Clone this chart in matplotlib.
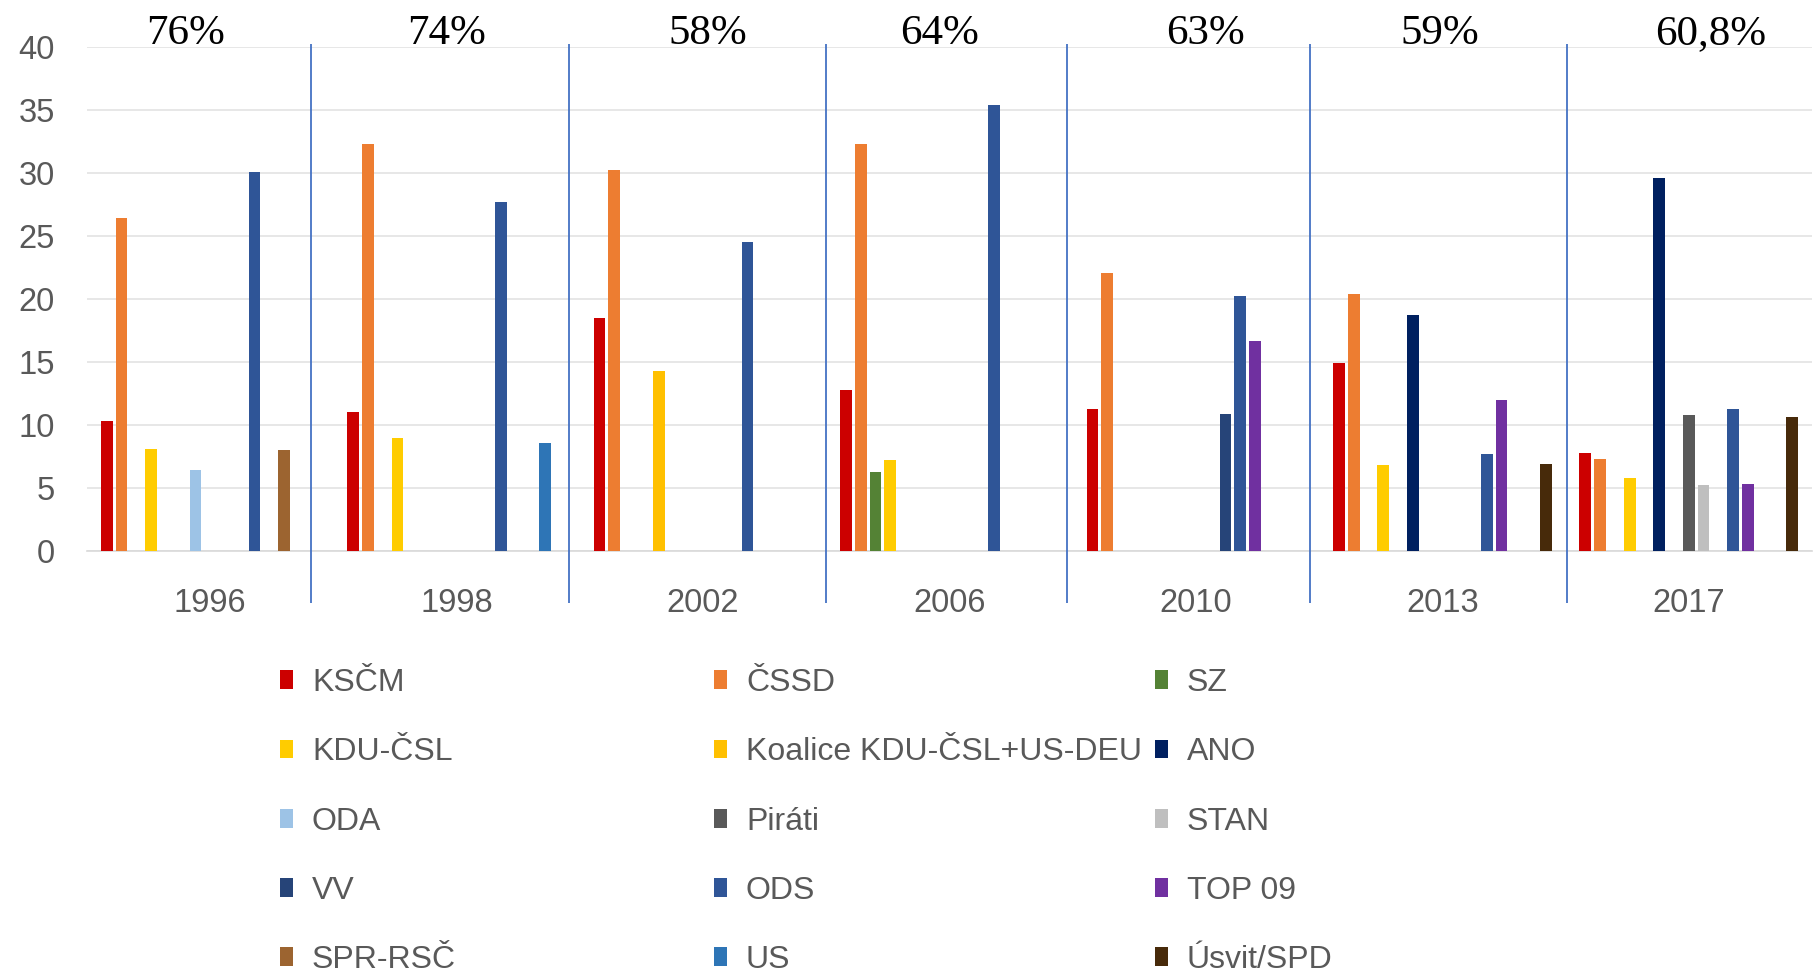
import numpy as np
import matplotlib
matplotlib.use("Agg")
import matplotlib.pyplot as plt

# years (categories) and turnout labels above each group
years = ["1996", "1998", "2002", "2006", "2010", "2013", "2017"]
turnout = ["76%", "74%", "58%", "64%", "63%", "59%", "60,8%"]

# party results in %, one list per party, 0 = did not get in
parties = ["KSČM", "ČSSD", "SZ", "KDU-ČSL", "Koalice KDU-ČSL+US-DEU", "ANO",
           "ODA", "Piráti", "STAN", "VV", "ODS", "TOP 09",
           "SPR-RSČ", "US", "Úsvit/SPD"]
kscm = [10.3, 11.0, 18.5, 12.8, 11.3, 14.9, 7.8]
cssd = [26.4, 32.3, 30.2, 32.3, 22.1, 20.4, 7.3]
sz = [0, 0, 0, 6.3, 0, 0, 0]
kdu = [8.1, 9.0, 0, 7.2, 0, 6.8, 5.8]
koalice = [0, 0, 14.3, 0, 0, 0, 0]
ano = [0, 0, 0, 0, 0, 18.7, 29.6]
oda = [6.4, 0, 0, 0, 0, 0, 0]
pirati = [0, 0, 0, 0, 0, 0, 10.8]
stan = [0, 0, 0, 0, 0, 0, 5.2]
vv = [0, 0, 0, 0, 10.9, 0, 0]
ods = [30.1, 27.7, 24.5, 35.4, 20.2, 7.7, 11.3]
top09 = [0, 0, 0, 0, 16.7, 12.0, 5.3]
spr = [8.0, 0, 0, 0, 0, 0, 0]
us = [0, 8.6, 0, 0, 0, 0, 0]
usvit = [0, 0, 0, 0, 0, 6.9, 10.6]
values = [kscm, cssd, sz, kdu, koalice, ano, oda, pirati, stan, vv, ods,
          top09, spr, us, usvit]

colors = ["#CC0000", "#ED7D31", "#548235", "#FFCC00", "#FFC000", "#002060",
          "#9DC3E6", "#595959", "#BFBFBF", "#264478", "#2F5597", "#7030A0",
          "#9C6430", "#2E75B6", "#472A0A"]

# hand-drawn separators and label spots (in category units)
sep_x = [0.41, 1.455, 2.498, 3.478, 4.461, 5.504]
pct_x = [-0.10, 0.96, 2.02, 2.96, 4.04, 4.99, 6.09]

grey = "#595959"
plt.rcParams["font.family"] = ["Liberation Sans", "DejaVu Sans"]

W, H = 1820, 973
fig = plt.figure(figsize=(W / 100, H / 100), dpi=100)
ax = fig.add_axes([87 / W, 1 - 551 / H, (1812 - 87) / W, (551 - 47) / H])

x = np.arange(len(years))
slot = 0.06
bw = 0.048
bars = []
for j, (name, vals, col) in enumerate(zip(parties, values, colors)):
    b = ax.bar(x + (j - 7) * slot, vals, bw, color=col, label=name, zorder=3)
    bars.append(b)

ax.set_xlim(-0.5, 6.5)
ax.set_ylim(0, 40)
ax.set_yticks(range(0, 41, 5))
ax.set_xticks(x)
ax.set_xticklabels(years)
ax.tick_params(axis="y", length=0, pad=23, labelsize=23.5, labelcolor=grey)
ax.tick_params(axis="x", length=0, pad=27, labelsize=23.5, labelcolor=grey)
ax.grid(axis="y", color="#E3E3E3", linewidth=1.2, zorder=0)
for s in ["top", "right", "left"]:
    ax.spines[s].set_visible(False)
ax.spines["bottom"].set_color("#D9D9D9")
ax.spines["bottom"].set_linewidth(1.2)

ax.vlines(sep_x, -4.1, 40.25, colors="#4472C4", linewidth=1.3,
          clip_on=False, zorder=4)

for px, t in zip(pct_x, turnout):
    ax.text(px, 40.25, t, ha="center", va="baseline", fontsize=31,
            family=["Liberation Serif", "DejaVu Serif"], color="black")

# Excel-like legend: 3 equal columns, filled row by row
col_left = [280, 714, 1155]
for c in range(3):
    leg = fig.legend([bars[k] for k in range(c, 15, 3)],
                     [parties[k] for k in range(c, 15, 3)],
                     loc="upper left",
                     bbox_to_anchor=(col_left[c] / W, 1 - 668 / H),
                     frameon=False, fontsize=23, labelcolor=grey,
                     handlelength=0.4, handleheight=0.53, handletextpad=0.6,
                     labelspacing=1.23, borderpad=0, borderaxespad=0)

fig.savefig("out.png", dpi=100)
